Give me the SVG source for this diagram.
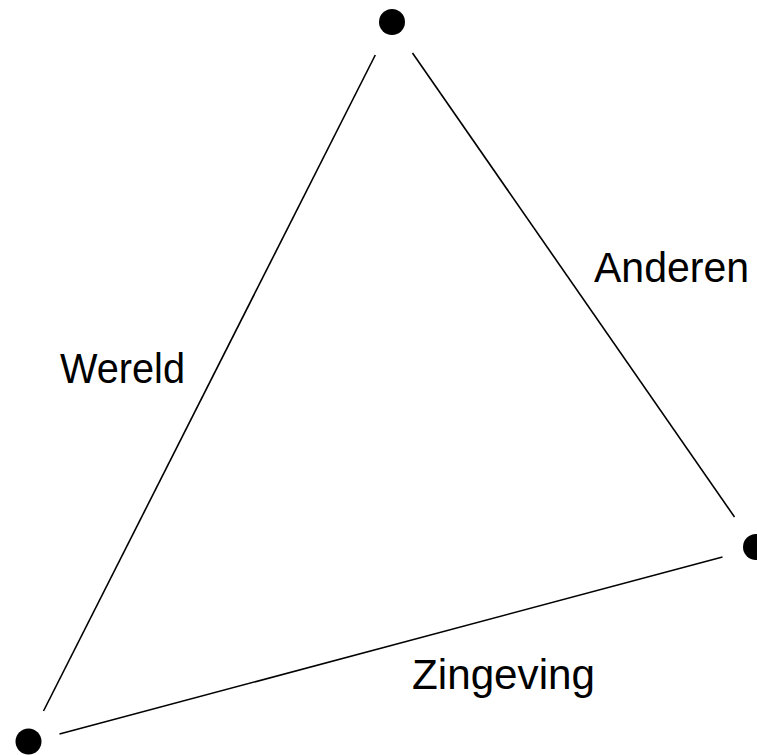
<svg xmlns="http://www.w3.org/2000/svg" width="757" height="755" viewBox="0 0 757 755">
<style>
.edge{stroke:#000;stroke-width:1.6;fill:none}
.dot{fill:#000}
.lbl{font-family:"Liberation Sans","DejaVu Sans",sans-serif;font-size:42px;fill:#000}
</style>
<rect width="757" height="755" fill="#fff"/>
<g id="connectors">
<line class="edge" x1="375.3" y1="55" x2="43.5" y2="711"/>
<line class="edge" x1="412.5" y1="53" x2="734.5" y2="517"/>
<line class="edge" x1="59.5" y1="734" x2="722.5" y2="557"/>
</g>
<g id="node-top"><circle class="dot" cx="392" cy="22" r="13"/></g>
<g id="node-right"><circle class="dot" cx="756" cy="547" r="13"/></g>
<g id="node-bottom"><circle class="dot" cx="28.5" cy="741.5" r="13"/></g>
<g id="label-wereld"><text class="lbl" x="60" y="383" textLength="125" lengthAdjust="spacingAndGlyphs">Wereld</text></g>
<g id="label-anderen"><text class="lbl" x="594" y="282" textLength="155" lengthAdjust="spacingAndGlyphs">Anderen</text></g>
<g id="label-zingeving"><text class="lbl" x="412" y="689" textLength="183" lengthAdjust="spacingAndGlyphs">Zingeving</text></g>
</svg>
